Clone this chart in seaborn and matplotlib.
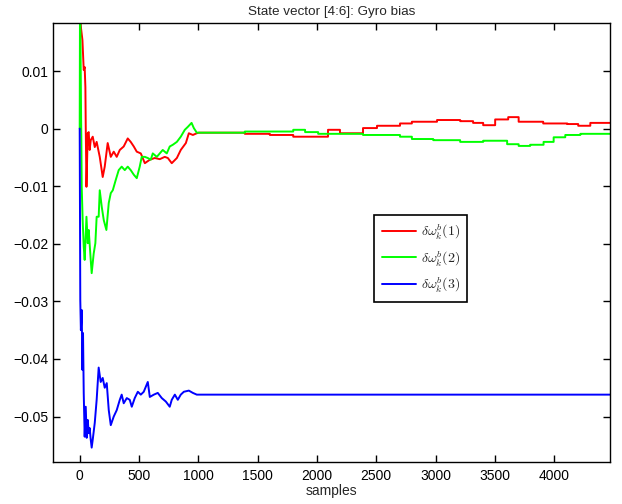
import matplotlib
matplotlib.use("Agg")
import matplotlib.pyplot as plt
import seaborn as sns
import pandas as pd
import numpy as np

# ---------------- data ----------------
red_x = [0, 8, 23, 34, 42, 48, 51, 57, 68, 76, 84, 93, 110, 127, 143, 169, 194, 211,
         236, 262, 287, 312, 338, 371, 405, 430, 456, 481, 515, 549, 591, 633, 675,
         717, 743, 776, 819, 852, 895, 920, 954, 987, 1004,
         1392, 1392, 1603, 1603, 1800, 1800, 2093, 2093, 2194, 2194, 2388, 2388,
         2506, 2506, 2700, 2700, 2800, 2800, 3012, 3012, 3207, 3207, 3316, 3316,
         3401, 3401, 3502, 3502, 3612, 3612, 3700, 3700, 3907, 3907, 4110, 4110,
         4202, 4202, 4304, 4304, 4470]
red_y = [0.025, 0.018, 0.0154, 0.0102, 0.0107, 0.0072, 0.0003, -0.0101, -0.0008,
         -0.0006, -0.0037, -0.0020, -0.0014, -0.0032, -0.0023, -0.0049, -0.0084,
         -0.0066, -0.0025, -0.0049, -0.0040, -0.0049, -0.0037, -0.0031, -0.0017,
         -0.0023, -0.0031, -0.0040, -0.0043, -0.0060, -0.0054, -0.0051, -0.0053,
         -0.0049, -0.0051, -0.0060, -0.0051, -0.0037, -0.0025, -0.0008, -0.0011,
         -0.0008, -0.0007,
         -0.0007, -0.0009, -0.0009, -0.0011, -0.0011, -0.0014, -0.0014, -0.0002,
         -0.0002, -0.0008, -0.0008, 0.0001, 0.0001, 0.0005, 0.0005, 0.0009, 0.0009,
         0.0012, 0.0012, 0.0015, 0.0015, 0.0013, 0.0013, 0.0010, 0.0010, 0.0006,
         0.0006, 0.0016, 0.0016, 0.0020, 0.0020, 0.0012, 0.0012, 0.0009, 0.0009,
         0.0008, 0.0008, 0.0005, 0.0005, 0.0010, 0.0010]

green_x = [0, 3, 12, 14, 17, 25, 34, 42, 57, 68, 76, 93, 101, 118, 132, 143, 160,
           169, 186, 203, 225, 245, 262, 279, 304, 329, 354, 380, 405, 430, 456, 481,
           506, 523, 549, 574, 599, 616, 650, 675, 700, 734, 759, 785, 819, 852, 886,
           911, 943, 962, 987, 1004,
           1392, 1392, 1800, 1800, 1900, 1900, 2010, 2010, 2388, 2388, 2700, 2700,
           2800, 2800, 2980, 2980, 3207, 3207, 3401, 3401, 3603, 3603, 3700, 3700,
           3797, 3797, 3910, 3910, 3995, 3995, 4093, 4093, 4220, 4220, 4470]
green_y = [0.0, 0.025, 0.0015, -0.0020, -0.0101, -0.0159, -0.0205, -0.0228, -0.0153,
           -0.0199, -0.0176, -0.0228, -0.0251, -0.0217, -0.0199, -0.0153, -0.0153,
           -0.0107, -0.0136, -0.0159, -0.0176, -0.0129, -0.0112, -0.0107, -0.0089,
           -0.0072, -0.0066, -0.0072, -0.0066, -0.0072, -0.0080, -0.0086, -0.0066,
           -0.0049, -0.0049, -0.0051, -0.0054, -0.0043, -0.0049, -0.0043, -0.0037,
           -0.0043, -0.0031, -0.0028, -0.0023, -0.0014, -0.0002, 0.0003, 0.0010,
           0.0001, -0.0007, -0.0007,
           -0.0007, -0.0005, -0.0005, -0.0002, -0.0002, -0.0006, -0.0006, -0.0009,
           -0.0009, -0.0011, -0.0011, -0.0014, -0.0014, -0.0018, -0.0018, -0.0020,
           -0.0020, -0.0023, -0.0023, -0.0021, -0.0021, -0.0027, -0.0027, -0.0030,
           -0.0030, -0.0028, -0.0028, -0.0023, -0.0023, -0.0015, -0.0015, -0.0011,
           -0.0011, -0.0009, -0.0009]

blue_x = [0, 5, 10, 17, 23, 28, 34, 42, 51, 59, 68, 76, 84, 93, 101, 110, 127, 143,
          160, 177, 194, 211, 228, 245, 262, 287, 312, 338, 354, 371, 397, 422, 439,
          464, 490, 515, 540, 574, 591, 625, 658, 692, 726, 759, 776, 802, 827, 852,
          878, 920, 954, 987, 1004, 4470]
blue_y = [0.0, -0.0298, -0.0350, -0.0315, -0.0419, -0.0355, -0.0459, -0.0535, -0.0483,
          -0.0537, -0.0506, -0.0529, -0.0520, -0.0540, -0.0554, -0.0540, -0.0511,
          -0.0471, -0.0415, -0.0440, -0.0433, -0.0450, -0.0442, -0.0489, -0.0515,
          -0.0500, -0.0489, -0.0471, -0.0462, -0.0477, -0.0468, -0.0471, -0.0483,
          -0.0468, -0.0457, -0.0462, -0.0457, -0.0440, -0.0466, -0.0462, -0.0459,
          -0.0468, -0.0474, -0.0483, -0.0471, -0.0462, -0.0471, -0.0462, -0.0457,
          -0.0455, -0.0459, -0.0462, -0.0462, -0.0462]

series_labels = [r'$\delta\omega^b_k(1)$', r'$\delta\omega^b_k(2)$', r'$\delta\omega^b_k(3)$']
series_colors = ['#ff0000', '#00ff00', '#0000ff']
x_ticks = [0, 500, 1000, 1500, 2000, 2500, 3000, 3500, 4000]
y_ticks = [-0.05, -0.04, -0.03, -0.02, -0.01, 0.0, 0.01]
title = 'State vector [4:6]: Gyro bias'
xlabel = 'samples'

# ---------------- plot ----------------
sns.set_theme(style='white')
plt.rcParams['font.family'] = ['Liberation Sans', 'DejaVu Sans']
plt.rcParams['mathtext.fontset'] = 'cm'
plt.rcParams['axes.unicode_minus'] = True

fig = plt.figure(figsize=(6.22, 5.04), dpi=100)
ax = fig.add_axes([53 / 622, 1 - 462 / 504, (610 - 53) / 622, (462 - 23) / 504])

for xs, ys, lab, col in zip([red_x, green_x, blue_x], [red_y, green_y, blue_y],
                            series_labels, series_colors):
    df = pd.DataFrame({'sample': xs, 'value': ys})
    sns.lineplot(data=df, x='sample', y='value', ax=ax, color=col, label=lab,
                 estimator=None, sort=False, linewidth=1.4)

ax.set_xlim(-225, 4470)
ax.set_ylim(-0.0579, 0.01835)
ax.set_xticks(x_ticks)
ax.set_yticks(y_ticks)
ax.set_xticklabels([str(t) for t in x_ticks])
ax.set_yticklabels([('%g' % round(t, 3)).replace('-', '\u2212') for t in y_ticks])
ax.tick_params(direction='in', length=5, width=1, top=True, right=True,
               bottom=True, left=True, labelsize=10, colors='black', pad=3.5)
ax.tick_params(axis='x', pad=5)
for s in ax.spines.values():
    s.set_visible(True)
    s.set_color('black')
    s.set_linewidth(1.0)

ax.set_title(title, fontsize=9.7, pad=6)
ax.set_xlabel(xlabel, fontsize=10, labelpad=1)
ax.set_ylabel('')

leg = ax.legend(loc='upper left', bbox_to_anchor=(374 / 622, 1 - 215 / 504),
                bbox_transform=fig.transFigure, borderaxespad=0, fontsize=10,
                frameon=True, fancybox=False, handlelength=2.5, handletextpad=0.3,
                labelspacing=0.55, borderpad=0.55)
leg.get_frame().set_edgecolor('black')
leg.get_frame().set_linewidth(1.2)
leg.get_frame().set_alpha(1)

fig.savefig('out.png', dpi=100)
